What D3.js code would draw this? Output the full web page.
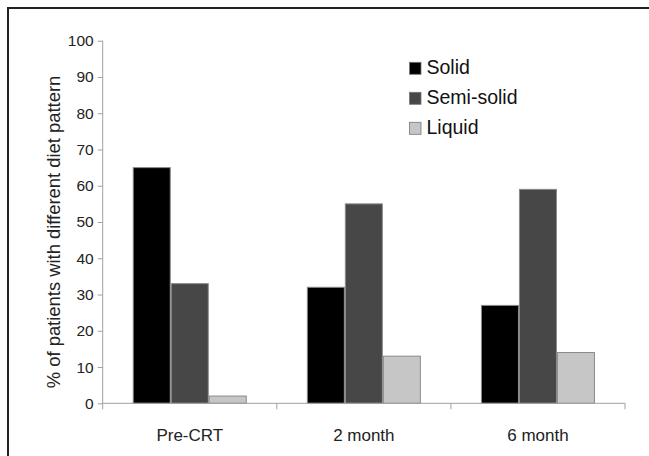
<!DOCTYPE html>
<html><head><meta charset="utf-8">
<script src="https://cdn.jsdelivr.net/npm/d3@7/dist/d3.min.js"></script>
<style>body{margin:0;background:#fff}svg{display:block;font-family:"Liberation Sans",Arial,sans-serif}</style>
</head><body>
<svg id="c" width="649" height="456"></svg>
<script>
const categories = ["Pre-CRT", "2 month", "6 month"];
const seriesNames = ["Solid", "Semi-solid", "Liquid"];
const solid = [65, 32, 27];
const semiSolid = [33, 55, 59];
const liquid = [2, 13, 14];
const yTicks = [0, 10, 20, 30, 40, 50, 60, 70, 80, 90, 100];
const colors = ["#000000", "#474747", "#c6c6c6"];
const yTitle = "% of patients with different diet pattern";

const series = [solid, semiSolid, liquid];
const svg = d3.select("#c");

// frame
svg.append("path").attr("d", "M8,470 V8 H660").attr("fill", "none").attr("stroke", "#222").attr("stroke-width", 2);

const mLeft = 102.7, mRight = 625, mTop = 40.7, mBottom = 403.3;
const x = d3.scaleBand().domain(categories).range([mLeft, mRight]);
const xi = d3.scaleBand().domain(seriesNames).range([0, x.bandwidth()]).paddingOuter(0.79).paddingInner(0);
const y = d3.scaleLinear().domain([0, 100]).range([mBottom, mTop]);

// y axis
const ya = svg.append("g").attr("transform", `translate(${mLeft},0)`)
  .call(d3.axisLeft(y).tickValues(yTicks).tickSize(5).tickPadding(4));
ya.select(".domain").attr("stroke", "#a0a0a0").attr("d", `M0,${mTop}V${mBottom + 6}`);
ya.selectAll(".tick line").attr("stroke", "#a0a0a0");
ya.selectAll(".tick text").attr("font-size", 15.5).attr("fill", "#222").attr("font-family", "Liberation Sans, Arial, sans-serif");

// bars
categories.forEach((c, ci) => {
  series.forEach((s, si) => {
    svg.append("rect")
      .attr("x", x(c) + xi(seriesNames[si]) + 0.5)
      .attr("y", y(s[ci]))
      .attr("width", xi.bandwidth() - 1)
      .attr("height", mBottom - y(s[ci]))
      .attr("fill", colors[si])
      .attr("stroke", "#8a8a8a").attr("stroke-width", 1);
  });
});

// x axis
const xa = svg.append("g").attr("transform", `translate(0,${mBottom})`);
xa.append("line").attr("x1", mLeft).attr("x2", mRight).attr("stroke", "#a0a0a0");
const bounds = categories.map(c => x(c) + x.bandwidth());
xa.selectAll(".sep").data(bounds).join("line")
  .attr("x1", d => d).attr("x2", d => d).attr("y1", 0).attr("y2", 6).attr("stroke", "#a0a0a0");
xa.selectAll(".lbl").data(categories).join("text")
  .attr("x", d => x(d) + x.bandwidth() / 2).attr("y", 37.7)
  .attr("text-anchor", "middle").attr("font-size", 17).attr("fill", "#222").text(d => d);

// y title
svg.append("text").attr("transform", `translate(60,${(mTop + mBottom) / 2 + 10}) rotate(-90)`)
  .attr("text-anchor", "middle").attr("font-size", 18.4).attr("fill", "#222").text(yTitle);

// legend
const lg = svg.append("g").attr("transform", "translate(409.5,62.3)");
seriesNames.forEach((n, i) => {
  lg.append("rect").attr("x", 0).attr("y", i * 30).attr("width", 11.5).attr("height", 12)
    .attr("fill", colors[i]).attr("stroke", "#777").attr("stroke-width", 0.8);
  lg.append("text").attr("x", 17).attr("y", i * 30 + 12).attr("font-size", 19.5).attr("fill", "#111").text(n);
});
</script>
</body></html>
